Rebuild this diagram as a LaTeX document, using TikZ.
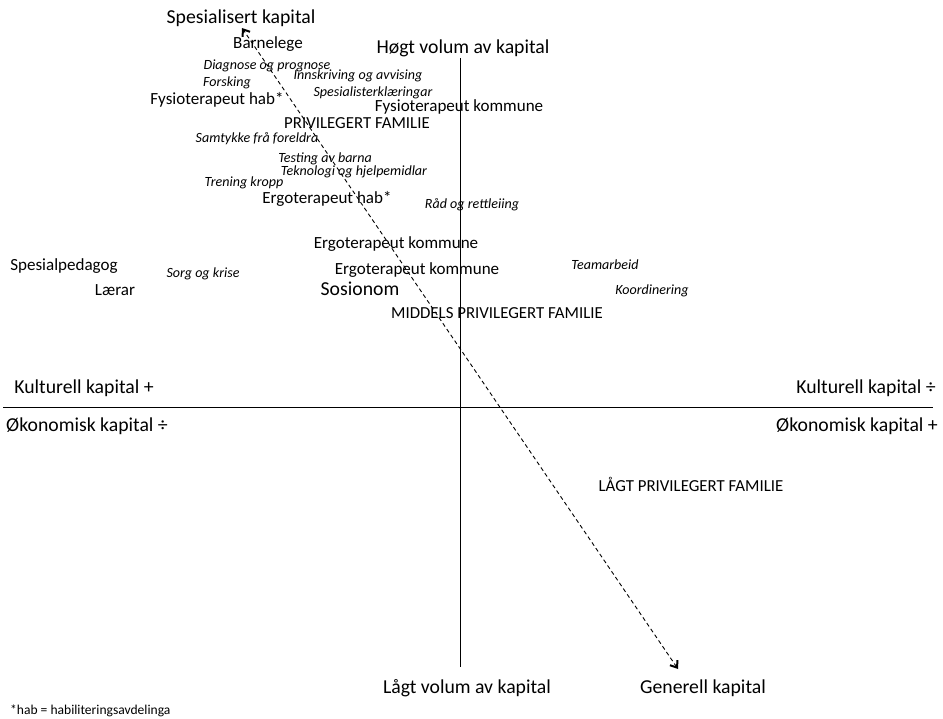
\documentclass[tikz,border=0pt]{standalone}
\usepackage{fontspec}
\setmainfont{Carlito}
\usepackage{tikz}
\usetikzlibrary{positioning}
\usetikzlibrary{arrows,arrows.meta,shapes}
\usetikzlibrary{calc}
\tikzstyle{axislabel}=[font=\fontsize{19.8}{22}\selectfont,inner sep=0pt]
\tikzstyle{actor}=[font=\fontsize{17.1}{19}\selectfont,inner sep=0pt]
\tikzstyle{task}=[font=\fontsize{14.1}{16}\selectfont\itshape,inner sep=0pt]
\tikzstyle{family}=[font=\fontsize{16.9}{19}\selectfont,inner sep=0pt]
\tikzstyle{axis} = [draw,line width=1pt]
\tikzstyle{capitalarrow} = [draw,dash pattern=on 4pt off 3pt,line width=0.9pt,
                            <->,>={Straight Barb[length=6pt,width=9pt,line width=2pt]}]

\begin{document}
\begin{tikzpicture}[x=1bp,y=-1bp]

  \useasboundingbox (0,0) rectangle (943,719);

  % axes
  \coordinate (top) at (460,58);
  \coordinate (bottom) at (460,667);
  \coordinate (left) at (3,407);
  \coordinate (right) at (933,407);
  \path[axis] (top) -- (bottom);
  \path[axis] (left) -- (right);

  \coordinate (spes) at (242,28);
  \coordinate (gen) at (678,669);
  \path[capitalarrow] (gen) -- (spes);

  % axis labels
  \foreach \x/\y/\name/\label in {241/18/spesialisert/{Spesialisert kapital},
                                 463/48/hogt/{Høgt volum av kapital},
                                 84/388/kultplus/{Kulturell kapital +},
                                 866/388/kultminus/{Kulturell kapital ÷},
                                 87/426/okominus/{Økonomisk kapital ÷},
                                 857/426/okoplus/{Økonomisk kapital +},
                                 467/688/laagt/{Lågt volum av kapital},
                                 703/688/generell/{Generell kapital}}
          \node[axislabel] (\name) at (\x,\y) {\label};

  % professions
  \foreach \x/\y/\name/\label in {268/44/barnelege/Barnelege,
                                 217/100/fysiohab/{Fysioterapeut hab*},
                                 459/107/fysiokom/{Fysioterapeut kommune},
                                 327/199/ergohab/{Ergoterapeut hab*},
                                 396/244/ergokomA/{Ergoterapeut kommune},
                                 417/270/ergokomB/{Ergoterapeut kommune},
                                 64/266/spesped/Spesialpedagog,
                                 115/290/laerar/Lærar}
          \node[actor] (\name) at (\x,\y) {\label};
  \node[axislabel] (sosionom) at (360,289) {Sosionom};

  % tasks
  \foreach \x/\y/\name/\label in {267/66/diagnose/{Diagnose og prognose},
                                 358/76/innskriving/{Innskriving og avvising},
                                 227/83/forsking/Forsking,
                                 373/93/spesialist/Spesialisterklæringar,
                                 257/139/samtykke/{Samtykke frå foreldra},
                                 325/159/testing/{Testing av barna},
                                 354/172/teknologi/{Teknologi og hjelpemidlar},
                                 244/183/trening/{Trening kropp},
                                 472/205/raad/{Råd og rettleiing},
                                 203/274/sorg/{Sorg og krise},
                                 605/265/team/Teamarbeid,
                                 652/291/koord/Koordinering}
          \node[task] (\name) at (\x,\y) {\label};

  % families
  \node[family] (privfam) at (357,123) {PRIVILEGERT FAMILIE};
  \node[family] (midfam) at (497,313) {MIDDELS PRIVILEGERT FAMILIE};
  \node[family] (laagfam) at (691,484) {LÅGT PRIVILEGERT FAMILIE};

  \node[task,font=\fontsize{13.6}{15}\selectfont,anchor=west] (note) at (10,711) {*hab = habiliteringsavdelinga};

\end{tikzpicture}
\end{document}
